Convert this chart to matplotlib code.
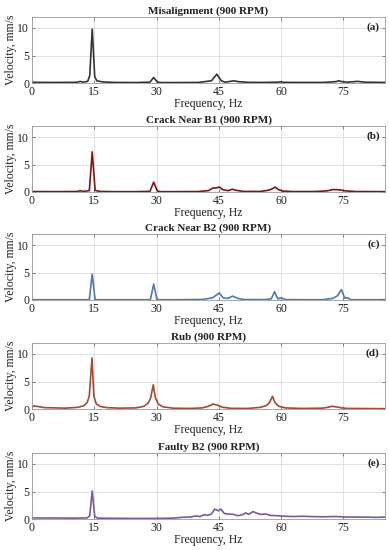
import numpy as np
import matplotlib.pyplot as plt

plt.rcParams['font.family'] = ['Liberation Serif', 'DejaVu Serif']

# (a) misalignment
fa = [0, 5, 10, 11.0, 11.6, 12.2, 13.4, 13.9, 14.5, 15.1, 15.6, 17, 20, 25, 28.4, 29.3, 30.2, 31, 35, 40, 43.2, 44.5, 45.6, 46.5,
      47.8, 48.6, 49.6, 52, 56, 59.2, 59.8, 60.5, 64, 70, 73.2, 73.9, 74.6, 76, 78.5, 80, 85]
va = [0.12, 0.1, 0.12, 0.15, 0.3, 0.15, 0.3, 1.3, 9.8, 1.2, 0.4, 0.2, 0.1, 0.08, 0.15, 1.0, 0.15, 0.08, 0.08, 0.1, 0.4, 1.6, 0.4, 0.15,
      0.3, 0.4, 0.25, 0.12, 0.1, 0.15, 0.2, 0.12, 0.1, 0.1, 0.25, 0.4, 0.25, 0.15, 0.3, 0.15, 0.1]

# (b) crack near B1
fb = [0, 5, 10, 11.0, 11.6, 12.2, 13.8, 14.5, 15.2, 16.3, 20, 25, 28.4, 29.3, 30.2, 31, 35, 40, 42.5, 43.5, 44.4, 45.1, 46.0, 47.3,
      48.2, 49.2, 51, 55, 56.8, 57.8, 58.5, 59.3, 60.5, 63, 68, 71, 72.5, 74, 75.5, 78, 85]
vb = [0.08, 0.06, 0.08, 0.1, 0.25, 0.1, 0.25, 7.3, 0.3, 0.1, 0.06, 0.06, 0.12, 1.8, 0.15, 0.06, 0.06, 0.08, 0.25, 0.7, 0.75, 0.9, 0.4, 0.25,
      0.5, 0.3, 0.1, 0.1, 0.3, 0.55, 0.9, 0.45, 0.15, 0.08, 0.08, 0.2, 0.45, 0.4, 0.2, 0.08, 0.06]

# (c) crack near B2
fc = [0, 5, 10, 13.8, 14.5, 15.2, 20, 28.5, 29.3, 30.1, 35, 41, 43.5, 44.4, 45.1, 46.0, 47.2, 48.3, 49.5, 51, 56, 57.6, 58.4, 59.2,
      60.0, 61.0, 65, 70, 72.5, 73.6, 74.5, 75.3, 76.0, 76.8, 80, 85]
vc = [0.05, 0.05, 0.05, 0.05, 4.7, 0.05, 0.05, 0.05, 2.9, 0.05, 0.05, 0.1, 0.4, 0.9, 1.3, 0.4, 0.3, 0.7, 0.3, 0.08, 0.08, 0.2, 1.5, 0.2,
      0.4, 0.08, 0.05, 0.05, 0.3, 0.8, 1.9, 0.35, 0.4, 0.05, 0.05, 0.05]

# (d) rub
fd = [0, 0.5, 1.5, 3, 8, 11, 12.5, 13.3, 13.8, 14.45, 14.9, 15.5, 16.5, 18, 21, 25, 27, 28.0, 28.6, 29.2, 29.7, 30.4, 31.5, 34, 38, 41,
      42.5, 43.6, 44.6, 46, 48, 52, 55, 56.5, 57.2, 57.9, 58.5, 59.4, 61, 65, 70, 71.5, 72.2, 73.0, 73.7, 74.5, 76, 80, 85]
vd = [0.35, 0.55, 0.45, 0.25, 0.15, 0.3, 0.6, 1.2, 2.4, 9.3, 2.3, 0.9, 0.45, 0.25, 0.15, 0.2, 0.5, 1.1, 2.1, 4.4, 2.1, 0.9, 0.4, 0.15,
      0.1, 0.2, 0.5, 0.9, 0.7, 0.3, 0.12, 0.1, 0.3, 0.65, 1.2, 2.3, 1.2, 0.5, 0.2, 0.1, 0.15, 0.35, 0.5, 0.4, 0.35, 0.2, 0.1, 0.08, 0.06]

# (e) faulty B2
fe = [0, 5, 10, 13.3, 13.9, 14.5, 15.1, 15.8, 20, 25, 30, 34, 36, 38, 39.5, 40.5, 41.5, 42.3, 43.2, 44.0, 44.8, 45.5, 46.3, 47.2, 48.5,
      49.5, 50.5, 51.5, 52.2, 53.2, 54.3, 55.2, 56.3, 57.5, 59, 61, 63, 65, 67, 70, 73, 76, 80, 83, 85]
ve = [0.2, 0.18, 0.15, 0.2, 0.6, 5.1, 0.5, 0.15, 0.12, 0.1, 0.1, 0.15, 0.3, 0.35, 0.55, 0.45, 0.8, 0.65, 0.9, 1.8, 1.5, 1.8, 1.0, 0.9,
      0.85, 0.6, 0.75, 1.1, 0.85, 1.35, 1.0, 0.85, 0.9, 0.65, 0.6, 0.5, 0.45, 0.5, 0.45, 0.4, 0.45, 0.35, 0.35, 0.3, 0.35]

freqs = [fa, fb, fc, fd, fe]
vals = [va, vb, vc, vd, ve]
titles = ['Misalignment (900 RPM)', 'Crack Near B1 (900 RPM)', 'Crack Near B2 (900 RPM)',
          'Rub (900 RPM)', 'Faulty B2 (900 RPM)']
tags = ['(a)', '(b)', '(c)', '(d)', '(e)']
colors = ['#333333', '#7a1515', '#4d79b5', '#a24a35', '#7a5a98']

W, H = 389, 550
fig = plt.figure(figsize=(W / 100, H / 100), dpi=100)
tops = [17, 126, 234, 343, 453]
ah = 66

for k in range(5):
    ax = fig.add_axes([32 / W, 1 - (tops[k] + ah) / H, 353 / W, ah / H])
    ax.plot(freqs[k], vals[k], color=colors[k], lw=1.2)
    ax.set_xlim(0, 85)
    ax.set_ylim(0, 12)
    ax.set_xticks([0, 15, 30, 45, 60, 75])
    ax.set_yticks([0, 5, 10])
    ax.grid(True, color='#dcdcdc', lw=0.6)
    ax.set_axisbelow(True)
    ax.tick_params(direction='in', length=2, width=0.5, labelsize=8.5, pad=2,
                   top=True, right=True, colors='#555555', labelcolor='#222222')
    for s in ax.spines.values():
        s.set_color('#999999')
        s.set_linewidth(0.6)
    ax.set_title(titles[k], fontsize=8, fontweight='bold', pad=2, color='#222222')
    ax.set_xlabel('Frequency, Hz', fontsize=8.5, labelpad=0, color='#222222')
    ax.set_ylabel('Velocity, mm/s', fontsize=8.5, labelpad=0, color='#222222')
    ax.text(0.985, 0.84, tags[k], transform=ax.transAxes, ha='right', va='center',
            fontsize=8, fontweight='bold', color='#222222')

fig.savefig('out.png', dpi=100)
